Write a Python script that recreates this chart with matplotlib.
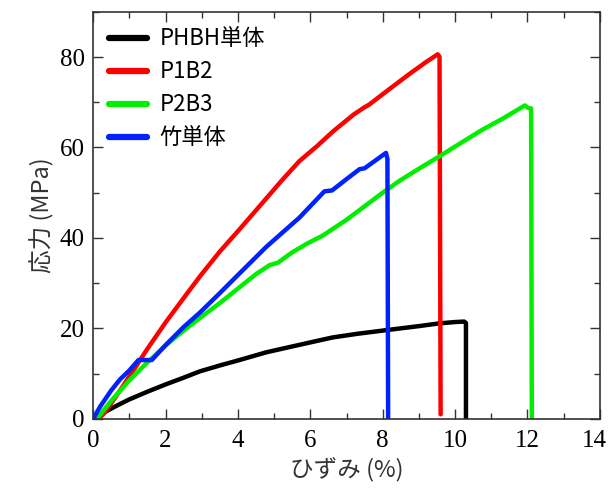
import matplotlib
matplotlib.use("Agg")
import matplotlib.pyplot as plt
from matplotlib.ticker import MultipleLocator
from matplotlib.transforms import ScaledTranslation

# PHBH単体 (black)
phbh_x = [0.0, 0.3, 0.6, 1.0, 1.5, 2.0, 2.5, 2.95, 3.5, 4.0, 4.78, 5.5, 6.0, 6.62, 7.3, 8.09, 9.0, 9.56, 10.0, 10.25, 10.3, 10.3]
phbh_y = [0.0, 1.4, 2.7, 4.3, 6.0, 7.6, 9.1, 10.5, 11.8, 12.9, 14.7, 16.0, 16.9, 18.0, 18.8, 19.6, 20.5, 21.1, 21.4, 21.5, 21.2, 0.0]

# P1B2 (red)
p1b2_x = [0.15, 0.3, 0.6, 1.07, 1.5, 2.0, 2.5, 2.95, 3.5, 4.0, 4.78, 5.2, 5.7, 6.2, 6.62, 7.2, 7.5, 7.63, 8.2, 8.73, 9.2, 9.52, 9.57, 9.6]
p1b2_y = [0.0, 1.2, 4.6, 10.2, 15.5, 21.3, 26.7, 31.5, 37.0, 41.5, 48.7, 52.6, 57.0, 60.4, 63.5, 67.3, 68.9, 69.5, 73.0, 76.2, 78.9, 80.6, 80.0, 1.0]

# P2B3 (green)
p2b3_x = [0.1, 0.5, 1.0, 1.5, 2.0, 2.5, 2.95, 3.5, 4.0, 4.5, 4.88, 5.1, 5.5, 5.9, 6.34, 7.0, 7.5, 8.0, 8.46, 9.0, 9.56, 10.2, 10.75, 11.3, 11.93, 12.0, 12.1, 12.12]
p2b3_y = [0.0, 4.0, 8.5, 12.5, 16.2, 19.5, 22.3, 25.6, 28.8, 32.0, 34.0, 34.5, 36.8, 38.7, 40.5, 44.0, 47.0, 50.0, 52.6, 55.3, 58.0, 61.2, 63.9, 66.3, 69.3, 68.8, 68.6, 0.0]

# 竹単体 (blue)
bamboo_x = [0.0, 0.2, 0.5, 0.74, 1.0, 1.25, 1.62, 2.0, 2.5, 2.95, 3.5, 4.0, 4.78, 5.7, 6.39, 6.6, 7.0, 7.36, 7.5, 8.09, 8.13, 8.15]
bamboo_y = [0.0, 2.8, 6.3, 8.7, 10.7, 13.0, 13.0, 16.3, 20.3, 23.5, 27.8, 31.8, 38.0, 44.5, 50.3, 50.5, 53.0, 55.2, 55.4, 58.8, 57.5, 0.0]

series = [
    ("PHBH単体", phbh_x, phbh_y, "#000000"),
    ("P1B2", p1b2_x, p1b2_y, "#ff0000"),
    ("P2B3", p2b3_x, p2b3_y, "#00ee00"),
    ("竹単体", bamboo_x, bamboo_y, "#0022ff"),
]

fig = plt.figure(figsize=(6.09, 4.91), dpi=100)
ax = fig.add_axes([0.153, 0.147, 0.832, 0.829])

for label, xs, ys, c in series:
    ax.plot(xs, ys, color=c, lw=3.2, label=label, solid_joinstyle="round", solid_capstyle="round")

ax.set_xlim(0, 14)
ax.set_ylim(0, 90)
ax.xaxis.set_major_locator(MultipleLocator(2))
ax.xaxis.set_minor_locator(MultipleLocator(1))
ax.yaxis.set_major_locator(MultipleLocator(20))
ax.yaxis.set_minor_locator(MultipleLocator(10))
ax.tick_params(which="both", direction="in", top=True, right=True, width=1.0, color="#333333")
ax.tick_params(which="major", length=7)
ax.tick_params(which="minor", length=4)
ax.tick_params(axis="x", pad=8)
ax.tick_params(axis="y", pad=6)
fig.canvas.draw()
xlabels = ax.get_xticklabels()
for lab in xlabels + ax.get_yticklabels():
    lab.set_fontfamily("Liberation Serif")
    lab.set_fontsize(18)
# nudge the last x tick label so it stays inside the figure
for lab in xlabels:
    if lab.get_text() == "14":
        lab.set_transform(lab.get_transform() + ScaledTranslation(-6 / 100, 0, fig.dpi_scale_trans))
for s in ax.spines.values():
    s.set_linewidth(1.2)
    s.set_color("#333333")

cjk = ["Noto Sans CJK JP", "DejaVu Sans"]
ax.set_xlabel("ひずみ (%)", fontsize=17, family=cjk, color="#333333", labelpad=4)
ax.set_ylabel("応力 (MPa)", fontsize=17, family=cjk, color="#333333", labelpad=4)

leg = ax.legend(loc="upper left", frameon=False, prop={"family": cjk, "size": 16},
                handlelength=1.7, handletextpad=0.6, labelspacing=0.45,
                borderaxespad=0.3, bbox_to_anchor=(0.0, 1.0))
for h in leg.get_lines():
    h.set_linewidth(4.5)

fig.savefig("out.png", dpi=100)
